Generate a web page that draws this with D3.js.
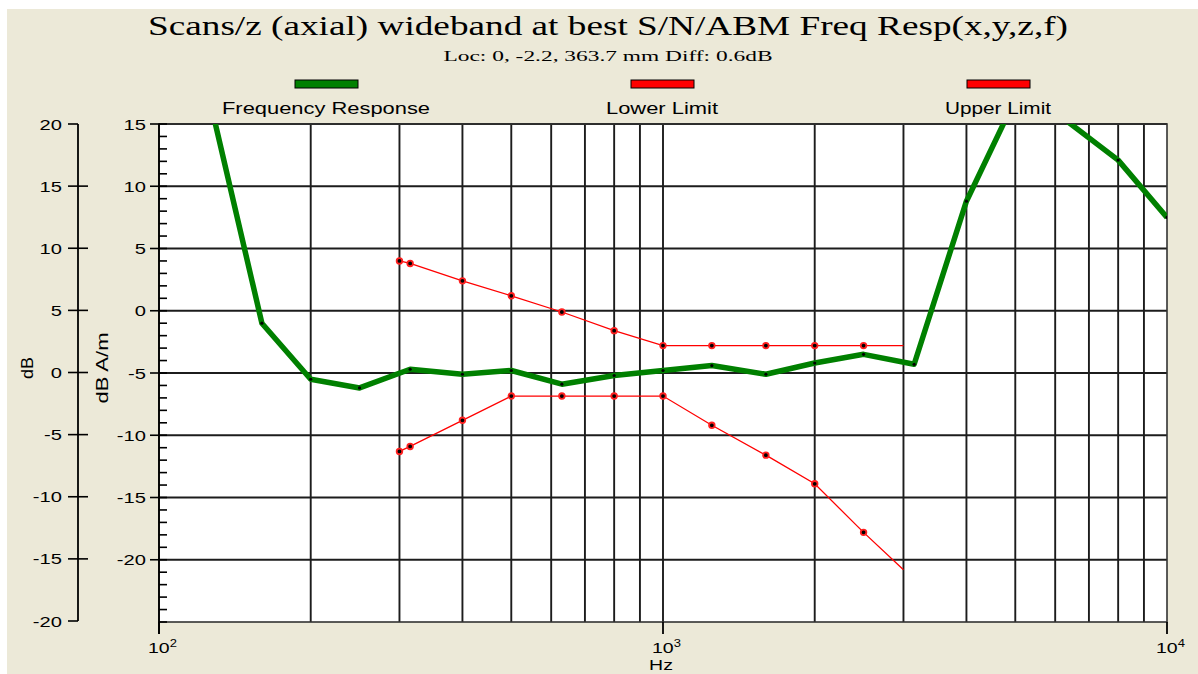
<!DOCTYPE html>
<html><head><meta charset="utf-8">
<script src="https://cdn.jsdelivr.net/npm/d3@7"></script>
<style>html,body{margin:0;padding:0;background:#fff;overflow:hidden}</style>
</head><body>
<svg id="c" width="1198" height="674"></svg>
<script>
// ---- data ----
const titleText = "Scans/z (axial) wideband at best S/N/ABM Freq Resp(x,y,z,f)";
const subtitleText = "Loc: 0, -2.2, 363.7 mm Diff: 0.6dB";
const seriesNames = ["Frequency Response", "Lower Limit", "Upper Limit"];
const seriesColors = ["#008000", "#ff0000", "#ff0000"];

const responseHz = [125,160,200,250,315,400,500,630,800,1000,1250,1600,2000,2500,3150,4000,5000,6300,8000,10000];
const responseDb = [17.6,-1.0,-5.5,-6.2,-4.7,-5.1,-4.8,-5.9,-5.2,-4.8,-4.4,-5.1,-4.2,-3.5,-4.3,8.8,17.0,15.3,12.1,7.5];

const limitHz = [300,315,400,500,630,800,1000,1250,1600,2000,2500,3000];
const lowerLimitDb = [-11.3,-10.9,-8.8,-6.85,-6.85,-6.85,-6.85,-9.2,-11.6,-13.9,-17.8,-20.8];
const upperLimitDb = [4.0,3.8,2.4,1.2,-0.1,-1.6,-2.8,-2.8,-2.8,-2.8,-2.8,-2.8];

const gridHz = [200,300,400,500,600,700,800,900,1000,2000,3000,4000,5000,6000,7000,8000,9000];
const decadeHz = [100,1000,10000];
const decadeExp = ["2","3","4"];
const innerMajor = [-20,-15,-10,-5,0,5,10,15];
const innerMinor = d3.range(-25,16,1);
const outerTicks = [-20,-15,-10,-5,0,5,10,15,20];

// ---- layout ----
const L = 159, R = 1167, T = 124, B = 622;
const SX = 1.3;
const sans = "'Liberation Sans', Arial, sans-serif";
const serif = "'Liberation Serif', 'Times New Roman', serif";

const svg = d3.select("#c");
svg.append("rect").attr("x",7).attr("y",9).attr("width",1191).attr("height",665).attr("fill","#ECE9D8");

const x = d3.scaleLog().domain([100,10000]).range([L,R]);
const y = d3.scaleLinear().domain([-25,15]).range([B,T]);
const yOuter = d3.scaleLinear().domain([-20,20]).range([621,T]);

function stext(xp, yp, txt, anchor, size, fam, len){
  const t = svg.append("text")
    .attr("transform", `translate(${xp},${yp})` + (len ? "" : ` scale(${SX},1)`))
    .attr("text-anchor", anchor)
    .style("font-family", fam).style("font-size", size+"px").attr("fill","#000")
    .text(txt);
  if (len) t.attr("textLength", len).attr("lengthAdjust","spacingAndGlyphs");
  return t;
}

// title
stext(608, 35, titleText, "middle", 27, serif, 920);
stext(608, 61, subtitleText, "middle", 14, serif, 329);

// legend
const legendX = [326, 662, 998];
const legendLen = [208, 112, 106];
seriesNames.forEach((n,i)=>{
  svg.append("rect").attr("x",legendX[i]-31).attr("y",80).attr("width",63).attr("height",8)
    .attr("fill",seriesColors[i]).attr("stroke","#000").attr("stroke-width",1);
  stext(legendX[i], 114, n, "middle", 17, sans, legendLen[i]);
});

// plot area
svg.append("rect").attr("x",L).attr("y",T).attr("width",R-L).attr("height",B-T).attr("fill","#fff");
const grid = svg.append("g").attr("stroke","#1c1c1c").attr("stroke-width",1.9);
grid.selectAll(".v").data(gridHz).join("line")
  .attr("x1",d=>x(d)).attr("x2",d=>x(d)).attr("y1",T).attr("y2",B);
grid.selectAll(".h").data(innerMajor).join("line")
  .attr("x1",L).attr("x2",R).attr("y1",d=>y(d)).attr("y2",d=>y(d));
svg.append("rect").attr("x",L).attr("y",T).attr("width",R-L).attr("height",B-T)
  .attr("fill","none").attr("stroke","#333").attr("stroke-width",1.6);

// clip
svg.append("clipPath").attr("id","clip").append("rect").attr("x",L).attr("y",T).attr("width",R-L).attr("height",B-T);
const plot = svg.append("g").attr("clip-path","url(#clip)");

const line = d3.line().x(d=>x(d[0])).y(d=>y(d[1]));
const resp = responseHz.map((f,i)=>[f,responseDb[i]]);
const low = limitHz.map((f,i)=>[f,lowerLimitDb[i]]);
const up = limitHz.map((f,i)=>[f,upperLimitDb[i]]);

[low, up].forEach(s=>{
  plot.append("path").datum(s).attr("d",line).attr("fill","none").attr("stroke","#ff0000").attr("stroke-width",1.3);
  plot.selectAll(null).data(s.slice(0,-1)).join("circle")
    .attr("cx",d=>x(d[0])).attr("cy",d=>y(d[1])).attr("r",2.8)
    .attr("fill","#000").attr("stroke","#ff2020").attr("stroke-width",1.8);
});
plot.append("path").datum(resp).attr("d",line).attr("fill","none")
  .attr("stroke","#008000").attr("stroke-width",5.5).attr("stroke-linejoin","round");
plot.selectAll(null).data(resp).join("circle")
  .attr("cx",d=>x(d[0])).attr("cy",d=>y(d[1])).attr("r",1.6).attr("fill","#000");

// inner y axis
const ax = svg.append("g").attr("stroke","#000");
ax.append("line").attr("x1",L).attr("x2",L).attr("y1",T).attr("y2",B+12).attr("stroke-width",1.8);
ax.selectAll(".mn").data(innerMinor).join("line")
  .attr("x1",L).attr("x2",L+8).attr("y1",d=>y(d)).attr("y2",d=>y(d)).attr("stroke-width",1.6);
ax.selectAll(".mj").data(innerMajor).join("line")
  .attr("x1",L-9).attr("x2",L).attr("y1",d=>y(d)).attr("y2",d=>y(d)).attr("stroke-width",1.6);
innerMajor.forEach(v=>stext(146, y(v)+5.5, String(v), "end", 15.5, sans));

// outer y axis
const ox = 78;
ax.append("line").attr("x1",ox).attr("x2",ox).attr("y1",yOuter(20)).attr("y2",yOuter(-20)).attr("stroke-width",1.8);
ax.selectAll(".ot").data(outerTicks).join("line")
  .attr("x1",ox-10).attr("x2",d=>(d===20||d===-20)?ox:ox+10)
  .attr("y1",d=>yOuter(d)).attr("y2",d=>yOuter(d)).attr("stroke-width",1.6);
outerTicks.forEach(v=>stext(62, yOuter(v)+5.5, String(v), "end", 15.5, sans));

// axis titles
svg.append("text").attr("transform","translate(33,368) rotate(-90)").attr("text-anchor","middle")
  .style("font-family",sans).style("font-size","17px").attr("textLength",22).attr("lengthAdjust","spacingAndGlyphs").text("dB");
svg.append("text").attr("transform","translate(108,368) rotate(-90)").attr("text-anchor","middle")
  .style("font-family",sans).style("font-size","17px").attr("textLength",71).attr("lengthAdjust","spacingAndGlyphs").text("dB A/m");

// x axis
ax.selectAll(".xt").data(decadeHz).join("line")
  .attr("x1",d=>x(d)).attr("x2",d=>x(d)).attr("y1",B).attr("y2",B+12).attr("stroke-width",1.8);
decadeHz.forEach((d,i)=>{
  const t = svg.append("text").attr("transform",`translate(${x(d)-11},653) scale(${SX},1)`)
    .style("font-family",sans).style("font-size","15px");
  t.append("tspan").text("10");
  t.append("tspan").attr("dy",-6).style("font-size","10px").text(decadeExp[i]);
});
stext(661, 670, "Hz", "middle", 15, sans);
</script>
</body></html>
